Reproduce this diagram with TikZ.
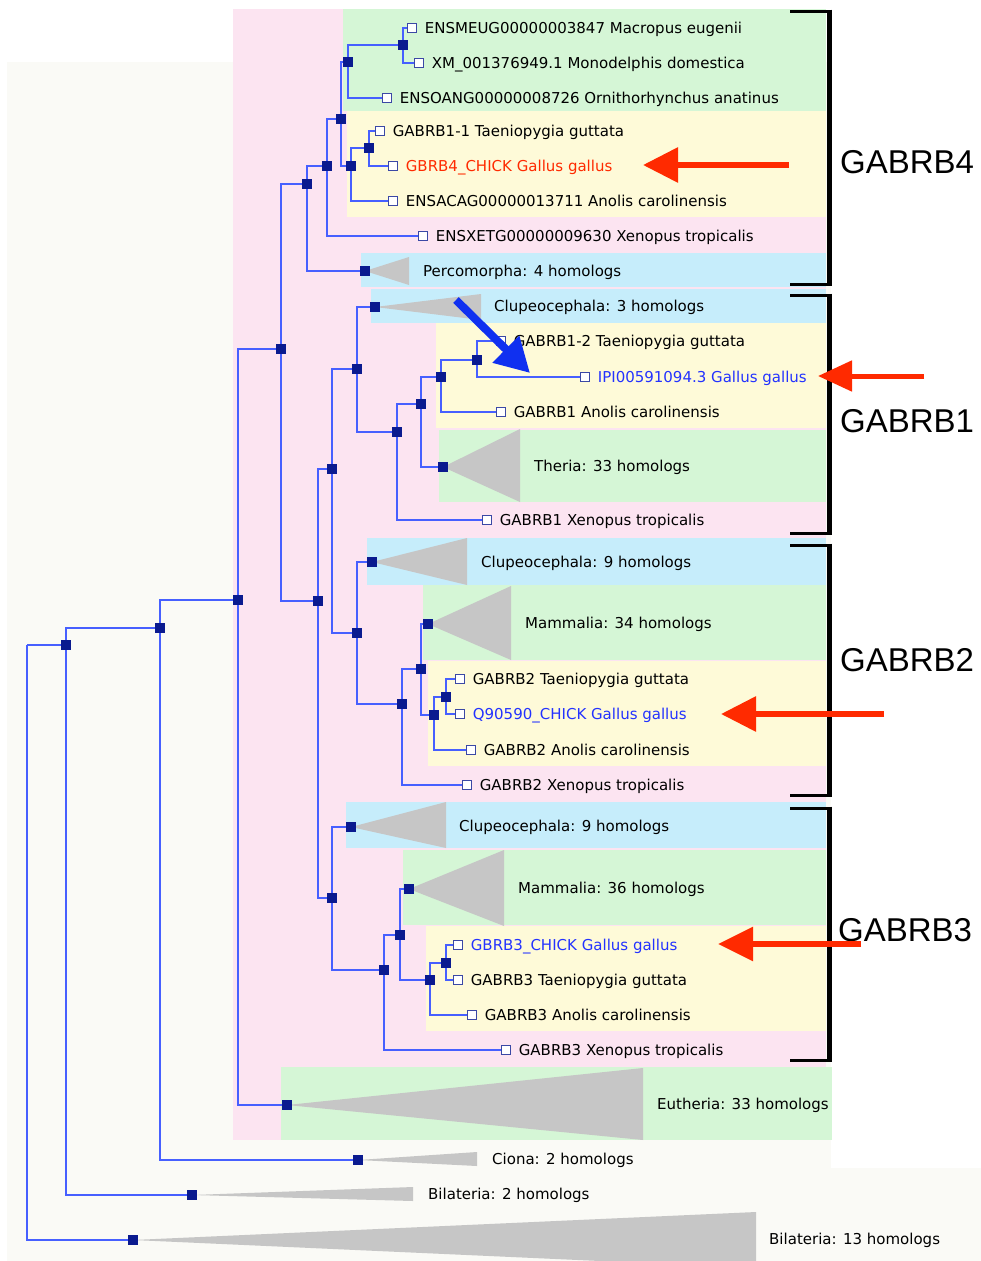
\documentclass[tikz,border=0pt]{standalone}
\usepackage{fontspec}
\setmainfont{DejaVu Sans}
\newfontfamily\arialf{Liberation Sans}
\usetikzlibrary{arrows.meta}
\pgfdeclarelayer{bg}
\pgfdeclarelayer{lines}
\pgfsetlayers{bg,lines,main}
\definecolor{offw}{RGB}{250,250,246}
\definecolor{pinkb}{RGB}{252,228,241}
\definecolor{greenb}{RGB}{213,246,214}
\definecolor{yellowb}{RGB}{254,250,216}
\definecolor{blueb}{RGB}{198,237,251}
\definecolor{navy}{RGB}{10,26,143}
\definecolor{branchc}{RGB}{70,95,255}
\definecolor{trig}{RGB}{198,198,198}
\definecolor{redt}{RGB}{255,42,0}
\definecolor{bluet}{RGB}{35,50,255}
\definecolor{arrowblue}{RGB}{16,48,240}
\tikzset{
  inode/.style={rectangle, fill=navy, minimum size=10pt, inner sep=0pt},
  lf/.style={rectangle, draw=navy!80!white, fill=white, minimum size=9.5pt, inner sep=0pt, line width=0.8pt},
  br/.style={draw=branchc, line width=1.2pt},
  lbl/.style={font=\fontsize{15}{18}\selectfont, inner sep=0pt, anchor=base west},
  tri/.style={fill=trig},
  grp/.style={font=\fontsize{33}{40}\selectfont\arialf, inner sep=0pt, anchor=base west},
  brkv/.style={line width=5pt, black},
  brkh/.style={line width=3pt, black},
  redarrow/.style={draw=redt, line width=6pt, -{Triangle[length=35pt,width=34pt]}},
}
\newcommand\Leaf[5]{%
  \node[lf] (#1) at (#2,#3) {};
  \node[lbl,text=#5] (#1t) at ([xshift=7.5pt,yshift=-5pt]#1.east) {#4};
}
\begin{document}
\begin{tikzpicture}[x=1pt,y=-1pt]
\useasboundingbox (0,0) rectangle (981,1261);
% ---------- internal nodes ----------
\coordinate (root) at (27,645);
\node[inode] (nBil0)  at (66,645) {};
\node[inode] (nBil13) at (133,1240) {};
\node[inode] (nCio0)  at (160,628) {};
\node[inode] (nBil2)  at (192,1195) {};
\node[inode] (nEuk)   at (238,600) {};
\node[inode] (nCiona) at (358,1160) {};
\node[inode] (nB1234) at (281,349) {};
\node[inode] (nEuth)  at (287,1105) {};
\node[inode] (nB4)    at (307,184) {};
\node[inode] (nB123)  at (318,601) {};
\node[inode] (nTet4)  at (327,166) {};
\node[inode] (nPerc)  at (365,271) {};
\node[inode] (nAmn4)  at (341,119) {};
\node[inode] (nMam)   at (348,62) {};
\node[inode] (nSau4)  at (351,166) {};
\node[inode] (nMM)    at (403,45) {};
\node[inode] (nBird4) at (369,148) {};
\node[inode] (nB1up)  at (332,469) {};
\node[inode] (nB1)    at (357,369) {};
\node[inode] (nClu1)  at (375,307) {};
\node[inode] (nT1)    at (397,432) {};
\node[inode] (nA1)    at (421,404) {};
\node[inode] (nS1)    at (441,377) {};
\node[inode] (nBird1) at (477,360) {};
\node[inode] (nTher)  at (443,467) {};
\node[inode] (nB2)    at (357,633) {};
\node[inode] (nClu2)  at (372,562) {};
\node[inode] (nT2)    at (402,704) {};
\node[inode] (nA2)    at (421,669) {};
\node[inode] (nMam2)  at (428,624) {};
\node[inode] (nS2)    at (434,715) {};
\node[inode] (nBird2) at (446,697) {};
\node[inode] (nB3)    at (332,898) {};
\node[inode] (nClu3)  at (351,827) {};
\node[inode] (nT3)    at (384,970) {};
\node[inode] (nA3)    at (400,935) {};
\node[inode] (nMam3)  at (409,889) {};
\node[inode] (nS3)    at (430,980) {};
\node[inode] (nBird3) at (446,963) {};
% ---------- leaves ----------
\Leaf{lMac}{412}{28}{ENSMEUG00000003847 Macropus eugenii}{black}
\Leaf{lMon}{419}{63}{XM\_001376949.1 Monodelphis domestica}{black}
\Leaf{lOrn}{387}{98}{ENSOANG00000008726 Ornithorhynchus anatinus}{black}
\Leaf{lTae4}{380}{131}{GABRB1-1 Taeniopygia guttata}{black}
\Leaf{lGal4}{393}{166}{GBRB4\_CHICK Gallus gallus}{redt}
\Leaf{lAno4}{393}{201}{ENSACAG00000013711 Anolis carolinensis}{black}
\Leaf{lXen4}{423}{236}{ENSXETG00000009630 Xenopus tropicalis}{black}
\Leaf{lTae1}{501}{341}{GABRB1-2 Taeniopygia guttata}{black}
\Leaf{lGal1}{585}{377}{IPI00591094.3 Gallus gallus}{bluet}
\Leaf{lAno1}{501}{412}{GABRB1 Anolis carolinensis}{black}
\Leaf{lXen1}{487}{520}{GABRB1 Xenopus tropicalis}{black}
\Leaf{lTae2}{460}{679}{GABRB2 Taeniopygia guttata}{black}
\Leaf{lGal2}{460}{714}{Q90590\_CHICK Gallus gallus}{bluet}
\Leaf{lAno2}{471}{750}{GABRB2 Anolis carolinensis}{black}
\Leaf{lXen2}{467}{785}{GABRB2 Xenopus tropicalis}{black}
\Leaf{lGal3}{458}{945}{GBRB3\_CHICK Gallus gallus}{bluet}
\Leaf{lTae3}{458}{980}{GABRB3 Taeniopygia guttata}{black}
\Leaf{lAno3}{472}{1015}{GABRB3 Anolis carolinensis}{black}
\Leaf{lXen3}{506}{1050}{GABRB3 Xenopus tropicalis}{black}
% ---------- collapsed group labels ----------
\node[lbl] (tPerc)  at (423,276)  {Percomorpha: 4 homologs};
\node[lbl] (tClu1)  at (494,311)  {Clupeocephala: 3 homologs};
\node[lbl] (tTher)  at (534,471)  {Theria: 33 homologs};
\node[lbl] (tClu2)  at (481,567)  {Clupeocephala: 9 homologs};
\node[lbl] (tMam2)  at (525,628)  {Mammalia: 34 homologs};
\node[lbl] (tClu3)  at (459,831)  {Clupeocephala: 9 homologs};
\node[lbl] (tMam3)  at (518,893)  {Mammalia: 36 homologs};
\node[lbl] (tEuth)  at (657,1109) {Eutheria: 33 homologs};
\node[lbl] (tCiona) at (492,1164) {Ciona: 2 homologs};
\node[lbl] (tBil2)  at (428,1199) {Bilateria: 2 homologs};
\node[lbl] (tBil13) at (769,1244) {Bilateria: 13 homologs};
% ---------- gene family labels ----------
\node[grp] (gB4) at (840,173) {GABRB4};
\node[grp] (gB1) at (840,432) {GABRB1};
\node[grp] (gB2) at (840,671) {GABRB2};
\node[grp] (gB3) at (838,941) {GABRB3};
% ---------- backgrounds and triangles ----------
\begin{pgfonlayer}{bg}
\fill[white] (0,0) rectangle (981,1261);
\fill[offw] (7,62) rectangle (981,1261);
\fill[white] (831,0) rectangle (981,1168);
\fill[pinkb] (233,9) rectangle (826,1140);
\fill[greenb] (343,9) rectangle (826,111);
\fill[yellowb] (347,111) rectangle (826,217);
\fill[blueb] (361,253) rectangle (826,287);
\fill[blueb] (371,289) rectangle (826,323);
\fill[yellowb] (436,323) rectangle (826,428);
\fill[greenb] (439,430) rectangle (826,502);
\fill[blueb] (367,538) rectangle (826,585);
\fill[greenb] (423,585) rectangle (826,660);
\fill[yellowb] (428,661) rectangle (826,766);
\fill[blueb] (346,802) rectangle (826,848);
\fill[greenb] (403,850) rectangle (826,925);
\fill[yellowb] (426,926) rectangle (826,1031);
\fill[greenb] (281,1067) rectangle (832,1140);
\fill[tri] (nPerc.center) -- (409,257) -- (409,285) -- cycle;
\fill[tri] (nClu1.center) -- (481,294) -- (481,320) -- cycle;
\fill[tri] (nTher.center) -- (520,429) -- (520,502) -- cycle;
\fill[tri] (nClu2.center) -- (467,538) -- (467,585) -- cycle;
\fill[tri] (nMam2.center) -- (511,586) -- (511,660) -- cycle;
\fill[tri] (nClu3.center) -- (446,802) -- (446,848) -- cycle;
\fill[tri] (nMam3.center) -- (504,850) -- (504,926) -- cycle;
\fill[tri] (nEuth.center) -- (643,1068) -- (643,1140) -- cycle;
\fill[tri] (nCiona.center) -- (477,1152) -- (477,1166) -- cycle;
\fill[tri] (nBil2.center) -- (413,1187) -- (413,1201) -- cycle;
\fill[tri] (nBil13.center) -- (756,1212) -- (756,1268) -- cycle;
\end{pgfonlayer}
% ---------- branches ----------
\begin{pgfonlayer}{lines}
\draw[br] (root) -- (nBil0.center);
\draw[br] (root) |- (nBil13.center);
\draw[br] (nBil0.center) |- (nCio0.center);
\draw[br] (nBil0.center) |- (nBil2.center);
\draw[br] (nCio0.center) |- (nEuk.center);
\draw[br] (nCio0.center) |- (nCiona.center);
\draw[br] (nEuk.center) |- (nB1234.center);
\draw[br] (nEuk.center) |- (nEuth.center);
\draw[br] (nB1234.center) |- (nB4.center);
\draw[br] (nB1234.center) |- (nB123.center);
\draw[br] (nB4.center) |- (nTet4.center);
\draw[br] (nB4.center) |- (nPerc.center);
\draw[br] (nTet4.center) |- (nAmn4.center);
\draw[br] (nTet4.center) |- (lXen4.west);
\draw[br] (nAmn4.center) |- (nMam.center);
\draw[br] (nAmn4.center) |- (nSau4.center);
\draw[br] (nMam.center) |- (nMM.center);
\draw[br] (nMam.center) |- (lOrn.west);
\draw[br] (nMM.center) |- (lMac.west);
\draw[br] (nMM.center) |- (lMon.west);
\draw[br] (nSau4.center) |- (nBird4.center);
\draw[br] (nSau4.center) |- (lAno4.west);
\draw[br] (nBird4.center) |- (lTae4.west);
\draw[br] (nBird4.center) |- (lGal4.west);
\draw[br] (nB123.center) |- (nB1up.center);
\draw[br] (nB123.center) |- (nB3.center);
\draw[br] (nB1up.center) |- (nB1.center);
\draw[br] (nB1up.center) |- (nB2.center);
\draw[br] (nB1.center) |- (nClu1.center);
\draw[br] (nB1.center) |- (nT1.center);
\draw[br] (nT1.center) |- (nA1.center);
\draw[br] (nT1.center) |- (lXen1.west);
\draw[br] (nA1.center) |- (nS1.center);
\draw[br] (nA1.center) |- (nTher.center);
\draw[br] (nS1.center) |- (nBird1.center);
\draw[br] (nS1.center) |- (lAno1.west);
\draw[br] (nBird1.center) |- (lTae1.west);
\draw[br] (nBird1.center) |- (lGal1.west);
\draw[br] (nB2.center) |- (nClu2.center);
\draw[br] (nB2.center) |- (nT2.center);
\draw[br] (nT2.center) |- (nA2.center);
\draw[br] (nT2.center) |- (lXen2.west);
\draw[br] (nA2.center) |- (nMam2.center);
\draw[br] (nA2.center) |- (nS2.center);
\draw[br] (nS2.center) |- (nBird2.center);
\draw[br] (nS2.center) |- (lAno2.west);
\draw[br] (nBird2.center) |- (lTae2.west);
\draw[br] (nBird2.center) |- (lGal2.west);
\draw[br] (nB3.center) |- (nClu3.center);
\draw[br] (nB3.center) |- (nT3.center);
\draw[br] (nT3.center) |- (nA3.center);
\draw[br] (nT3.center) |- (lXen3.west);
\draw[br] (nA3.center) |- (nMam3.center);
\draw[br] (nA3.center) |- (nS3.center);
\draw[br] (nS3.center) |- (nBird3.center);
\draw[br] (nS3.center) |- (lAno3.west);
\draw[br] (nBird3.center) |- (lGal3.west);
\draw[br] (nBird3.center) |- (lTae3.west);
\end{pgfonlayer}
% ---------- brackets ----------
\draw[brkv] (829,9.5) -- (829,285.5);
\draw[brkh] (790,11) -- (829,11);
\draw[brkh] (790,284) -- (829,284);
\draw[brkv] (829,293.5) -- (829,534.5);
\draw[brkh] (790,295) -- (829,295);
\draw[brkh] (790,533) -- (829,533);
\draw[brkv] (829,543.5) -- (829,796.5);
\draw[brkh] (790,545) -- (829,545);
\draw[brkh] (790,795) -- (829,795);
\draw[brkv] (829,806.5) -- (829,1061.5);
\draw[brkh] (790,808) -- (829,808);
\draw[brkh] (790,1060) -- (829,1060);
% ---------- arrows ----------
\coordinate (a4s) at (789,165);  \coordinate (a4e) at (643,165);
\coordinate (a1s) at (924,376);  \coordinate (a1e) at (818,376);
\coordinate (a2s) at (884,714);  \coordinate (a2e) at (721,714);
\coordinate (a3s) at (861,944);  \coordinate (a3e) at (718,944);
\coordinate (abs) at (456,300);  \coordinate (abe) at (530,373);
\draw[redarrow] (a4s) -- (a4e);
\draw[redarrow, line width=5pt, -{Triangle[length=34pt,width=30pt]}] (a1s) -- (a1e);
\draw[redarrow] (a2s) -- (a2e);
\draw[redarrow, -{Triangle[length=35pt,width=33pt]}] (a3s) -- (a3e);
\draw[draw=arrowblue, line width=8pt, -{Triangle[length=34pt,width=36pt]}] (abs) -- (abe);
\end{tikzpicture}
\end{document}
